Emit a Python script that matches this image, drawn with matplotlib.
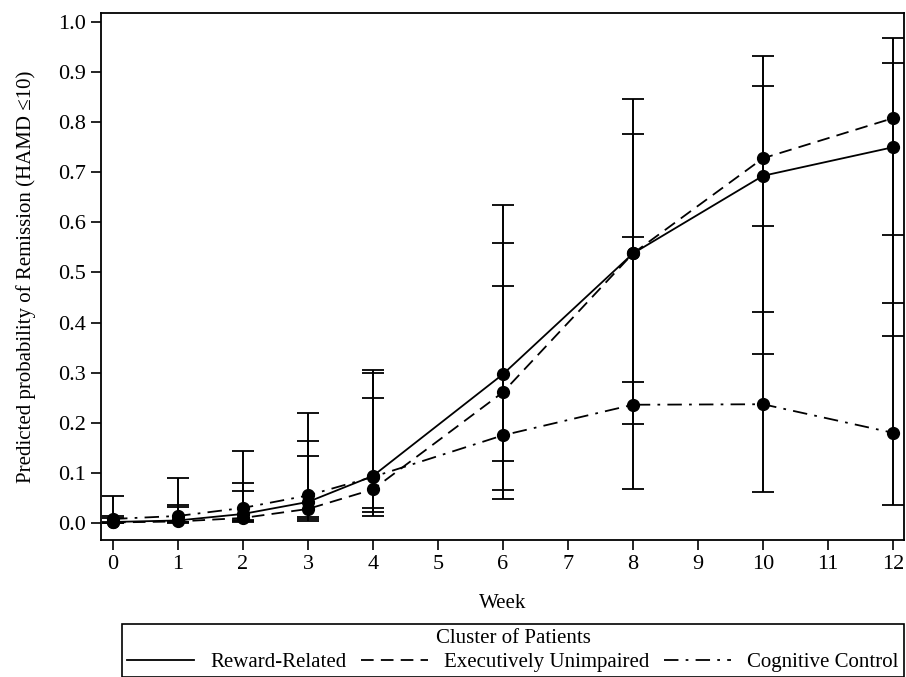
import matplotlib
matplotlib.use("Agg")
import matplotlib.pyplot as plt
import numpy as np
from matplotlib.lines import Line2D

plt.rcParams['font.family'] = ['Liberation Serif', 'DejaVu Serif']

# data
weeks = np.array([0, 1, 2, 3, 4, 6, 8, 10, 12])

reward = np.array([0.002, 0.005, 0.018, 0.042, 0.094, 0.297, 0.538, 0.693, 0.750])
reward_lo = np.array([0.0003, 0.001, 0.004, 0.008, 0.030, 0.123, 0.282, 0.422, 0.440])
reward_hi = np.array([0.013, 0.031, 0.079, 0.163, 0.306, 0.558, 0.776, 0.873, 0.918])

execu = np.array([0.001, 0.003, 0.010, 0.028, 0.067, 0.261, 0.538, 0.728, 0.808])
execu_lo = np.array([0.0001, 0.0005, 0.0015, 0.004, 0.013, 0.065, 0.198, 0.337, 0.373])
execu_hi = np.array([0.010, 0.035, 0.064, 0.133, 0.250, 0.634, 0.846, 0.933, 0.968])

cog = np.array([0.008, 0.014, 0.030, 0.055, 0.092, 0.175, 0.236, 0.237, 0.180])
cog_lo = np.array([0.001, 0.002, 0.006, 0.012, 0.022, 0.047, 0.067, 0.062, 0.035])
cog_hi = np.array([0.054, 0.089, 0.144, 0.219, 0.300, 0.473, 0.570, 0.592, 0.575])

labels = ['Reward-Related', 'Executively Unimpaired', 'Cognitive Control']
styles = ['-', (0, (7, 4)), (0, (8, 4, 1.5, 4))]

fig = plt.figure(figsize=(9.06, 6.77), dpi=100)
ax = fig.add_axes([101/906, 1 - 540/677, 803/906, 527/677])

series = [(reward, reward_lo, reward_hi), (execu, execu_lo, execu_hi), (cog, cog_lo, cog_hi)]
for (y, lo, hi), ls in zip(series, styles):
    ax.errorbar(weeks, y, yerr=[y - lo, hi - y], fmt='none', ecolor='black',
                elinewidth=1.4, capsize=8, capthick=1.3, zorder=2)
    ax.plot(weeks, y, color='black', linestyle=ls, linewidth=1.3, zorder=3)
    ax.plot(weeks, y, 'o', color='black', markersize=8.5, zorder=4)

ax.set_xlim(-0.185, 12.17)
ax.set_ylim(-0.034, 1.018)
ax.set_xticks(range(13))
ax.set_yticks(np.arange(0, 1.01, 0.1))
ax.set_yticklabels([f'{v:.1f}' for v in np.arange(0, 1.01, 0.1)])
ax.tick_params(direction='out', length=7, width=1.2, labelsize=16, pad=4)
for s in ax.spines.values():
    s.set_linewidth(1.3)

ax.set_xlabel('Week', fontsize=15, labelpad=14)
ax.set_ylabel('Predicted probability of Remission (HAMD ≤10)', fontsize=15, labelpad=16)

handles = [Line2D([], [], color='black', linestyle=ls, linewidth=1.3) for ls in styles]
leg = fig.legend(handles, labels, loc='upper center', ncol=3,
                 bbox_to_anchor=(122/906, 0.0, 782/906, 1 - 624/677),
                 mode='expand', title='Cluster of Patients', fontsize=15,
                 title_fontsize=15, fancybox=False, edgecolor='black',
                 framealpha=1, borderaxespad=0, handlelength=3.2,
                 borderpad=0.25, labelspacing=0.2)
leg.get_frame().set_linewidth(1.2)

fig.savefig('out.png', dpi=100)
